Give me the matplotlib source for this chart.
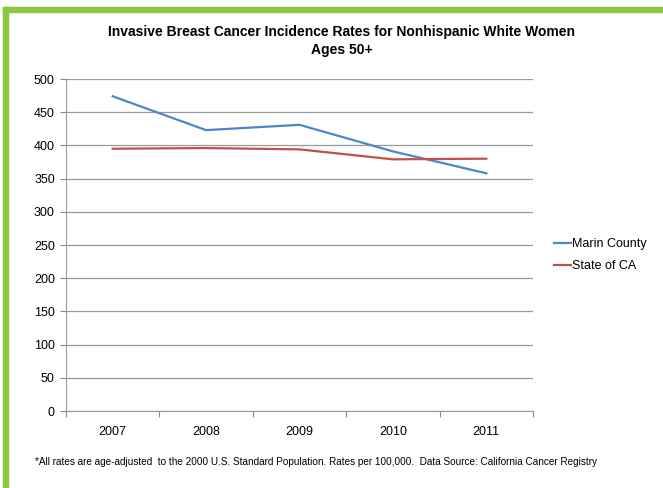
import matplotlib.pyplot as plt
from matplotlib.patches import Rectangle

years = ['2007', '2008', '2009', '2010', '2011']
marin = [474, 423, 431, 391, 358]
state_ca = [395, 396, 394, 379, 380]

plt.rcParams['font.family'] = ['Liberation Sans', 'DejaVu Sans']

fig = plt.figure(figsize=(6.63, 4.88), dpi=100)
W, H = 663, 488

# green frame on left and top
green = '#8dc63f'
fig.patches.append(Rectangle((3 / W, 0), 5 / W, 1 - 7 / H, transform=fig.transFigure, color=green, zorder=0))
fig.patches.append(Rectangle((3 / W, 1 - 12 / H), 1 - 3 / W, 5 / H, transform=fig.transFigure, color=green, zorder=0))

ax = fig.add_axes([66 / W, 1 - 411 / H, (533 - 66) / W, (411 - 79) / H])
x = range(len(years))
ax.plot(x, marin, color='#4f86c6', lw=1.6, label='Marin County')
ax.plot(x, state_ca, color='#c0504d', lw=1.6, label='State of CA')

ax.set_xlim(-0.5, len(years) - 0.5)
ax.set_ylim(0, 500)
ax.set_yticks(range(0, 501, 50))
ax.set_xticks([i - 0.5 for i in range(len(years) + 1)])
ax.set_xticklabels([])
ax.set_xticks(list(x), minor=True)
ax.set_xticklabels(years, minor=True)
ax.tick_params(axis='x', which='minor', length=0, pad=11, labelsize=9)
ax.tick_params(axis='x', which='major', length=4, color='#888888')
ax.tick_params(axis='y', length=4, color='#888888', labelsize=9, pad=4)
ax.grid(axis='y', color='#999999', lw=0.9)
ax.set_axisbelow(True)
for s in ['top', 'right']:
    ax.spines[s].set_visible(False)
for s in ['left', 'bottom']:
    ax.spines[s].set_color('#999999')

fig.text(0.515, 1 - 41 / H, 'Invasive Breast Cancer Incidence Rates for Nonhispanic White Women\nAges 50+',
         ha='center', va='center', fontsize=10, fontweight='bold', linespacing=1.35)

ax.legend(loc='center left', bbox_to_anchor=(1.02, 0.47), frameon=False, fontsize=9,
          handlelength=1.4, handletextpad=0.1, labelspacing=0.8)

fig.text(35 / W, 1 - 462 / H,
         '*All rates are age-adjusted  to the 2000 U.S. Standard Population. Rates per 100,000.  Data Source: California Cancer Registry',
         ha='left', va='center', fontsize=7.2)

fig.savefig('out.png', dpi=100)
